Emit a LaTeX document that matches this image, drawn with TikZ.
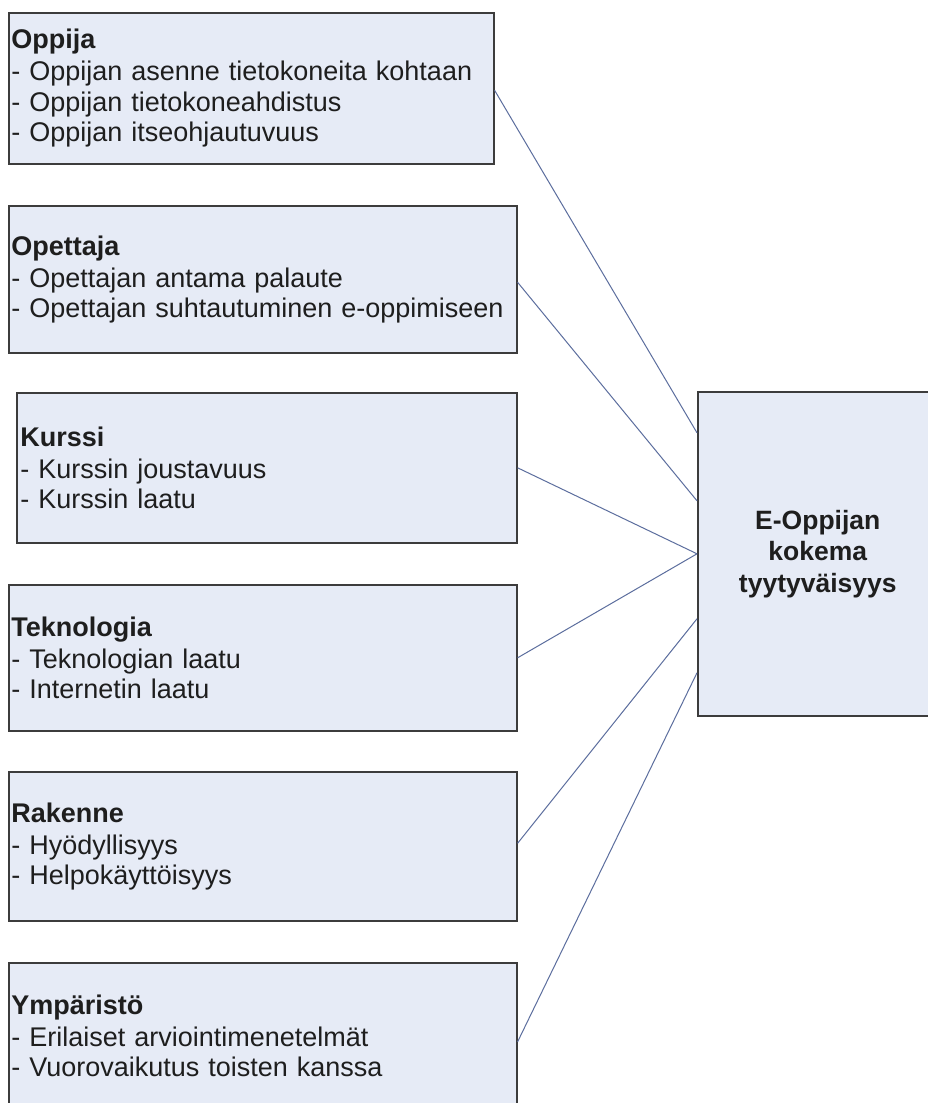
\documentclass[tikz,border=0pt]{standalone}
\usepackage{fontspec}
\setmainfont{Liberation Sans}
\definecolor{boxfill}{RGB}{230,235,246}
\definecolor{boxdraw}{RGB}{60,60,60}
\definecolor{linkcol}{RGB}{92,110,158}
\definecolor{txt}{RGB}{30,30,30}
\tikzset{
  leftbox/.style={draw=boxdraw, line width=1.6pt, fill=boxfill, anchor=north west,
    align=left, inner xsep=1.5pt, inner ysep=0pt, text=txt,
    font=\fontsize{27}{30.5}\selectfont},
  mainbox/.style={draw=boxdraw, line width=1.6pt, fill=boxfill, anchor=north west,
    align=center, inner sep=0pt, text=txt,
    font=\fontsize{26.5}{31.5}\selectfont\bfseries},
  link/.style={draw=linkcol, line width=1pt}
}
\begin{document}
\begin{tikzpicture}[x=1pt,y=-1pt]
\useasboundingbox (0,0) rectangle (928,1103);
\clip (0,0) rectangle (928,1103);
\fill[white] (0,0) rectangle (928,1103);

\node[leftbox, minimum width=485pt, minimum height=151pt, text width=480pt] (b1) at (8,12)
 {\textbf{Oppija}\\[1.5pt]- Oppijan asenne tietokoneita kohtaan\\- Oppijan tietokoneahdistus\\- Oppijan itseohjautuvuus};
\node[leftbox, minimum width=508pt, minimum height=147pt, text width=503pt] (b2) at (8,205)
 {\textbf{Opettaja}\\[1.5pt]- Opettajan antama palaute\\- Opettajan suhtautuminen e-oppimiseen};
\node[leftbox, minimum width=500pt, minimum height=150pt, text width=493pt, inner xsep=3.5pt] (b3) at (16,392)
 {\textbf{Kurssi}\\[1.5pt]- Kurssin joustavuus\\- Kurssin laatu};
\node[leftbox, minimum width=508pt, minimum height=146pt, text width=503pt] (b4) at (8,584)
 {\textbf{Teknologia}\\[1.5pt]- Teknologian laatu\\- Internetin laatu};
\node[leftbox, minimum width=508pt, minimum height=149pt, text width=503pt] (b5) at (8,771)
 {\textbf{Rakenne}\\[1.5pt]- Hyödyllisyys\\- Helpokäyttöisyys};
\node[leftbox, minimum width=508pt, minimum height=146pt, text width=503pt] (b6) at (8,962)
 {\textbf{Ympäristö}\\[1.5pt]- Erilaiset arviointimenetelmät\\- Vuorovaikutus toisten kanssa};

\node[mainbox, minimum width=240pt, minimum height=324pt] (r) at (697,391)
 {E-Oppijan\\kokema\\tyytyväisyys};

\draw[link] ([yshift=-2pt]b1.east) -- ([yshift=121pt]r.west);
\draw[link] ([yshift=-3pt]b2.east) -- ([yshift=53pt]r.west);
\draw[link] (b3.east) -- (r.west);
\draw[link] (b4.east) -- (r.west);
\draw[link] ([yshift=3pt]b5.east) -- ([yshift=-65pt]r.west);
\draw[link] ([yshift=-6pt]b6.east) -- ([yshift=-119pt]r.west);
\end{tikzpicture}
\end{document}
